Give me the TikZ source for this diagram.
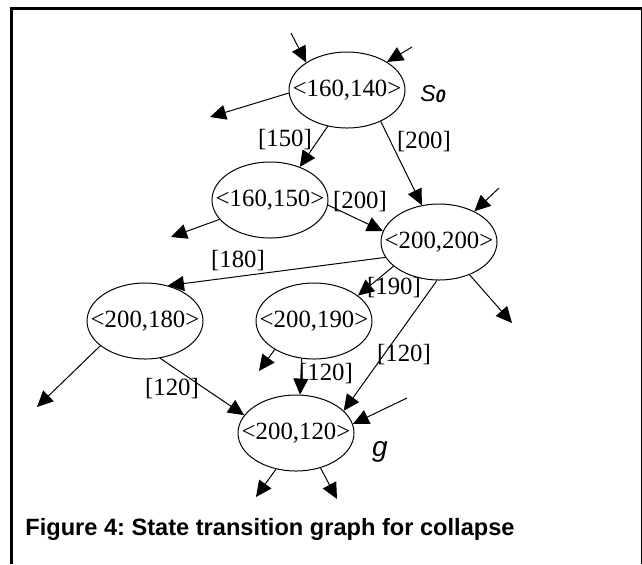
\documentclass[tikz,border=0pt]{standalone}
\usepackage{fontspec}
\setmainfont{Liberation Serif}
\setsansfont{Liberation Sans}
\usetikzlibrary{arrows.meta,shapes.geometric}
\frenchspacing

\tikzset{
	state/.style={draw, ellipse, minimum width=58pt, minimum height=38pt, inner sep=0pt, line width=0.5pt},
	lbl/.style={inner sep=0pt, font=\fontsize{12.4}{13}\selectfont},
	trans/.style={-{Triangle[length=8pt,width=7.5pt]}, line width=0.5pt},
}

\begin{document}
\begin{tikzpicture}[x=0.5pt, y=-0.5pt]
		\useasboundingbox (0,0) rectangle (642,564);
		\draw[line width=1.5pt] (11.5,564) -- (11.5,8.5) -- (641.5,8.5);
		\draw[line width=0.5pt] (641,8.5) -- (641,564);
		\node[state, label={[lbl]center:{<160,140>}}] (s1) at (347,90) {};
		\node[state, label={[lbl]center:{<160,150>}}] (s2) at (270,200) {};
		\node[state, label={[lbl]center:{<200,200>}}] (s3) at (439,242) {};
		\node[state, label={[lbl]center:{<200,180>}}] (s4) at (145,321) {};
		\node[state, label={[lbl]center:{<200,190>}}] (s5) at (314,321) {};
		\node[state, label={[lbl]center:{<200,120>}}] (s6) at (296,433) {};
		\coordinate (a1) at (291,33);
		\coordinate (a2) at (412,47);
		\coordinate (a3) at (499,188);
		\coordinate (a6) at (407,398);
		\coordinate (b1) at (210,117);
		\coordinate (b2) at (171,237);
		\coordinate (b3) at (512,323);
		\coordinate (b4) at (37,407);
		\coordinate (b5) at (259,371);
		\coordinate (b6) at (256,497);
		\coordinate (b7) at (337,499);
		\foreach \f/\t in {a1/s1.146, a2/s1.35, a3/s3.41, a6/s6.9,
			s1.183/b1, s2.201/b2, s3.313/b3, s4.209/b4, s5.216/b5, s6.241/b6, s6.305/b7,
			s1.242/s2.48, s1.317/s3.115, s2.355/s3.169, s3.196/s4.57,
			s3.208/s5.30, s3.267/s6.25, s4.292/s6.161, s5.252/s6.84}
		{
			\draw[trans] (\f) -- (\t);
		}
		\node[lbl] (l1) at (285,140) {[150]};
		\node[lbl] (l2) at (424,142) {[200]};
		\node[lbl] (l3) at (360,202) {[200]};
		\node[lbl] (l4) at (238,261) {[180]};
		\node[lbl] (l5) at (394,288) {[190]};
		\node[lbl] (l6) at (326,374) {[120]};
		\node[lbl] (l7) at (404,355) {[120]};
		\node[lbl] (l8) at (172,389) {[120]};
		\node[inner sep=0pt, font=\sffamily\itshape\fontsize{11.5}{12}\selectfont] (s0) at (433,94) {S\raisebox{-0.5pt}{\bfseries\fontsize{9}{9}\selectfont 0}};
		\node[inner sep=0pt, font=\sffamily\itshape\fontsize{14}{14}\selectfont] (g) at (380,452) {g};
		\node[anchor=base west, inner sep=0pt, font=\sffamily\bfseries\fontsize{11.8}{13}\selectfont] (cap) at (25,535) {Figure 4: State transition graph for collapse};
	\end{tikzpicture}
\end{document}
